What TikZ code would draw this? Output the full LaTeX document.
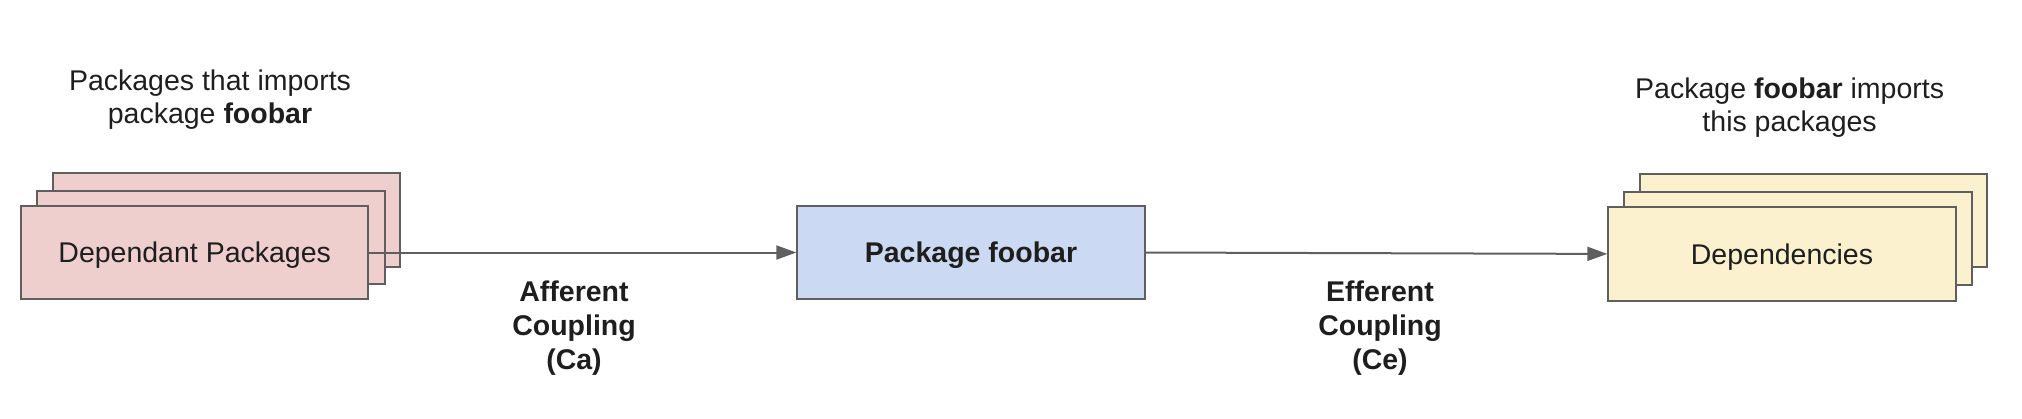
\documentclass[tikz,border=0pt]{standalone}
\usepackage{fontspec}
\setmainfont{Liberation Sans}
\definecolor{PinkFill}{HTML}{EFCECE}
\definecolor{BlueFill}{HTML}{CBDAF2}
\definecolor{YellowFill}{HTML}{FCF1CF}
\definecolor{EdgeGray}{HTML}{5F5F5F}
\definecolor{TextBlack}{HTML}{1E1E1E}
\usetikzlibrary{arrows.meta, positioning}

\begin{document}
\begin{tikzpicture}[x=0.5pt, y=-0.5pt]
        % --- Styles ---
        \tikzstyle{pkg}=[draw=EdgeGray, line width=1pt, minimum width=173.7pt, minimum height=46.6pt, inner sep=0pt, text height=10.2pt, text depth=0pt, text=TextBlack, font=\fontsize{14.25}{16.5}\selectfont]
        \tikzstyle{labelnode}=[font=\fontsize{14.25}{16.5}\selectfont, align=center, text=TextBlack]
        \tikzstyle{couplabel}=[font=\fontsize{14.25}{16.9}\selectfont\bfseries, align=center, text=TextBlack]
        \tikzstyle{flow}=[-{Triangle[length=10pt, width=7pt]}, draw=EdgeGray, line width=1pt]

        \useasboundingbox (0,0) rectangle (2022,418);

        % --- 1. Dependant Packages (stack of three) ---
        \node[pkg, fill=PinkFill] (dep3) at (226.3,220) {};
        \node[pkg, fill=PinkFill] (dep2) at (211.1,237.6) {};
        \node[pkg, fill=PinkFill] (dep) at (194.7,252.5) {Dependant Packages};
        \node[labelnode] (dep_label) at (210,99.5) {Packages that imports\\package \textbf{foobar}};

        % --- 2. Package foobar ---
        \node[pkg, fill=BlueFill, font=\fontsize{14.25}{16.5}\selectfont\bfseries] (foo) at (971,252.5) {Package foobar};

        % --- 3. Dependencies (stack of three) ---
        \node[pkg, fill=YellowFill] (lib3) at (1813.7,220.8) {};
        \node[pkg, fill=YellowFill] (lib2) at (1797.8,238.7) {};
        \node[pkg, fill=YellowFill] (lib) at (1782,253.9) {Dependencies};
        \node[labelnode] (lib_label) at (1789.6,107.5) {Package \textbf{foobar} imports\\this packages};

        % --- 4. Couplings ---
        \draw[flow] (dep.east) -- (foo.west);
        \node[couplabel] (ca) at (574,328) {Afferent\\Coupling\\(Ca)};

        \draw[flow] (foo.east) -- (lib.west);
        \node[couplabel] (ce) at (1380,328) {Efferent\\Coupling\\(Ce)};

    \end{tikzpicture}
\end{document}
